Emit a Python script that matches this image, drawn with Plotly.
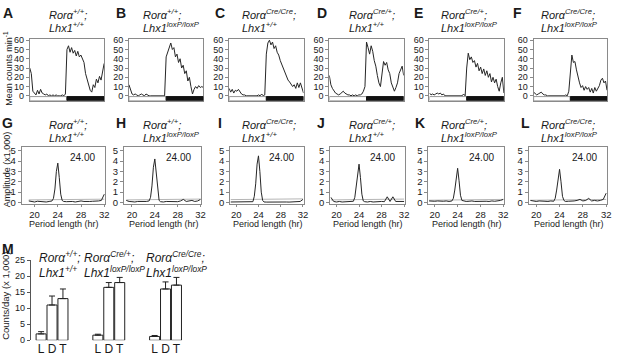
import plotly.graph_objects as go

W, H = 617, 356
FONT = "Liberation Sans, Arial, sans-serif"
TXT = "#1a1a1a"
FRAME = "#8a8a8a"

# ---------------- data ----------------
hours = [0, 0.5, 1, 1.5, 2, 2.5, 3, 3.5, 4, 4.5, 5, 5.5, 6, 6.5, 7, 7.5, 8, 8.5, 9, 9.5,
         10, 10.5, 11, 11.5, 12, 12.5, 13, 13.5, 14, 14.5, 15, 15.5, 16, 16.5, 17, 17.5,
         18, 18.5, 19, 19.5, 20, 20.5, 21, 21.5, 22, 22.5, 23, 23.5, 24]

act_A = [30, 24, 5, 3, 1, 6, 2, 7, 3, 2, 1, 2, 0, 1, 0, 1, 0, 1, 0, 0, 0, 1, 0, 2,
         50, 54, 47, 52, 46, 49, 43, 48, 42, 44, 40, 36, 24, 18, 12, 6, 4, 12, 9, 18,
         14, 21, 17, 26, 35]
act_B = [12, 6, 2, 1, 2, 1, 0, 1, 2, 1, 0, 2, 1, 0, 0, 0, 0, 0, 0, 0, 0, 0, 0, 0,
         42, 48, 53, 57, 50, 52, 42, 45, 36, 40, 30, 33, 24, 27, 16, 20, 10, 2, 7, 10,
         8, 11, 9, 10, 9]
act_C = [8, 4, 7, 3, 6, 5, 7, 4, 2, 1, 1, 0, 0, 0, 0, 0, 0, 0, 0, 1, 0, 2, 0, 1,
         45, 57, 60, 55, 58, 51, 54, 47, 44, 38, 34, 29, 24, 21, 17, 15, 13, 10, 12, 8,
         14, 9, 14, 7, 3]
act_D = [22, 12, 8, 5, 3, 2, 1, 2, 4, 5, 3, 2, 1, 1, 0, 1, 0, 1, 0, 1, 1, 2, 5, 10,
         58, 52, 45, 54, 48, 38, 32, 22, 14, 10, 24, 37, 33, 36, 28, 24, 14, 9, 5, 9,
         14, 24, 28, 32, 22]
act_E = [3, 1, 2, 1, 2, 3, 2, 3, 1, 2, 0, 0, 0, 0, 0, 0, 0, 0, 0, 0, 0, 0, 2, 0,
         30, 46, 39, 42, 36, 38, 31, 35, 27, 31, 24, 29, 22, 27, 20, 24, 15, 20, 14, 18,
         10, 5, 14, 20, 3]
act_F = [4, 2, 1, 2, 3, 4, 2, 1, 1, 0, 0, 0, 0, 0, 0, 0, 0, 0, 0, 0, 0, 1, 0, 5,
         22, 44, 36, 37, 28, 20, 14, 9, 11, 6, 10, 7, 9, 4, 8, 3, 9, 5, 8, 11,
         17, 19, 14, 16, 6]

periods = [19, 19.5, 20, 20.5, 21, 21.5, 22, 22.5, 23, 23.25, 23.5, 23.75, 24, 24.25,
           24.5, 24.75, 25, 25.5, 26, 26.5, 27, 27.5, 28, 28.5, 29, 29.5, 30, 30.5, 31,
           31.5, 32]
amp_G = [0.15, 0.10, 0.05, 0.12, 0.08, 0.10, 0.05, 0.10, 0.15, 0.4, 1.3, 3.0, 3.8, 2.4,
         0.8, 0.2, 0.10, 0.08, 0.12, 0.10, 0.05, 0.10, 0.15, 0.10, 0.08, 0.10, 0.12,
         0.10, 0.15, 0.20, 0.80]
amp_H = [0.20, 0.10, 0.08, 0.05, 0.10, 0.08, 0.12, 0.10, 0.15, 0.5, 1.6, 3.4, 4.2, 2.8,
         0.9, 0.2, 0.08, 0.05, 0.10, 0.08, 0.12, 0.10, 0.08, 0.15, 0.30, 0.10, 0.15,
         0.20, 0.10, 0.15, 0.30]
amp_I = [0.05, 0.05, 0.03, 0.05, 0.04, 0.05, 0.03, 0.05, 0.08, 0.6, 1.8, 3.7, 4.5, 3.0,
         1.0, 0.2, 0.05, 0.04, 0.05, 0.03, 0.05, 0.04, 0.05, 0.03, 0.05, 0.04, 0.05,
         0.05, 0.08, 0.10, 0.30]
amp_J = [0.50, 0.10, 0.05, 0.10, 0.05, 0.08, 0.05, 0.10, 0.12, 0.5, 1.5, 3.0, 3.7, 2.4,
         0.8, 0.15, 0.08, 0.05, 0.10, 0.05, 0.08, 0.05, 0.10, 0.08, 0.55, 0.10, 0.55,
         0.10, 0.08, 0.05, 0.10]
amp_K = [0.15, 0.10, 0.12, 0.15, 0.10, 0.12, 0.15, 0.10, 0.15, 0.4, 1.2, 2.6, 3.3, 2.1,
         0.7, 0.2, 0.15, 0.10, 0.12, 0.15, 0.10, 0.12, 0.10, 0.15, 0.12, 0.10, 0.15,
         0.12, 0.15, 0.20, 0.30]
amp_L = [0.20, 0.12, 0.10, 0.15, 0.10, 0.12, 0.10, 0.15, 0.12, 0.4, 1.2, 2.5, 3.2, 2.0,
         0.6, 0.2, 0.10, 0.12, 0.10, 0.15, 0.20, 0.30, 0.15, 0.20, 0.40, 0.15, 0.20,
         0.15, 0.20, 0.30, 0.90]
sig_start = [0.25, 0.25, 0.28, 0.25, 0.22, 0.22]
sig_end = [0.32, 0.33, 0.35, 0.33, 0.30, 0.30]
peak_period_text = ["24.00"] * 6

activity = [act_A, act_B, act_C, act_D, act_E, act_F]
amplitudes = [amp_G, amp_H, amp_I, amp_J, amp_K, amp_L]

top_letters = ["A", "B", "C", "D", "E", "F"]
mid_letters = ["G", "H", "I", "J", "K", "L"]
geno_ror = ["+/+", "+/+", "Cre/Cre", "Cre/+", "Cre/+", "Cre/Cre"]
geno_lhx = ["+/+", "loxP/loxP", "+/+", "+/+", "loxP/loxP", "loxP/loxP"]
top_yticks = [0, 10, 20, 30, 40, 50, 60]
mid_yticks = [0, 1, 2, 3, 4, 5]
mid_xticks = [20, 24, 28, 32]

m_ror = ["+/+", "Cre/+", "Cre/Cre"]
m_lhx = ["+/+", "loxP/loxP", "loxP/loxP"]
phases = ["L", "D", "T"]
m_means = [[2.0, 11.0, 13.0], [1.6, 16.5, 18.0], [1.2, 16.0, 17.2]]
m_sems = [[0.7, 2.8, 3.0], [0.3, 1.5, 1.6], [0.3, 2.2, 2.4]]
m_yticks = [0, 5, 10, 15, 20, 25]

# ---------------- layout geometry (pixels) ----------------
top_box_x = [(30, 105), (130, 205), (231, 306), (332, 407), (433, 508), (538, 612)]
top_box_y = (35, 99)
mid_box_x = [(22, 106), (125, 203), (232, 306), (333, 408), (432, 508), (533, 612)]
mid_box_y = (147, 206)
mid_xrange = [[17.8, 32.15], [18.6, 32.15], [18.9, 32.1], [18.9, 32.1], [18.9, 32.1], [18.7, 32.15]]
top_letter_x = [1, 115, 215, 318, 415, 515]
top_title_x = [47, 142, 242, 350, 443, 543]
mid_letter_x = [0, 115, 218, 318, 416, 523]
mid_title_x = [47, 142, 242, 350, 443, 543]


def xd(a, b):
    return [a / W, b / W]


def yd(top, bottom):
    return [1 - bottom / H, 1 - top / H]


def px(x):
    return x / W


def py(y):
    return 1 - y / H


fig = go.Figure()
layout = dict(
    width=W, height=H, margin=dict(l=0, r=0, t=0, b=0),
    paper_bgcolor="white", plot_bgcolor="white", showlegend=False,
    font=dict(family=FONT, color=TXT, size=9),
)
annotations = []
shapes = []

axis_common = dict(showgrid=False, zeroline=False, showline=True, linecolor=FRAME,
                   linewidth=1, mirror=True, tickfont=dict(size=9, color=TXT))

# ---- top row: actograms ----
for i in range(6):
    n = i + 1
    xa = "xaxis" if n == 1 else f"xaxis{n}"
    ya = "yaxis" if n == 1 else f"yaxis{n}"
    xr = "x" if n == 1 else f"x{n}"
    yr = "y" if n == 1 else f"y{n}"
    layout[xa] = dict(axis_common, domain=xd(*top_box_x[i]), anchor=yr, range=[0, 24],
                      showticklabels=False, ticks="")
    layout[ya] = dict(axis_common, domain=yd(*top_box_y), anchor=xr, range=[-5.2, 61.5],
                      tickvals=top_yticks, ticks="outside", ticklen=3, tickcolor=FRAME)
    fig.add_trace(go.Scatter(x=hours, y=activity[i], mode="lines", xaxis=xr, yaxis=yr,
                             line=dict(color="#262626", width=1)))
    shapes.append(dict(type="rect", xref=xr, yref=yr, x0=0, x1=12, y0=-5.2, y1=-0.8,
                       line=dict(color="#9a9a9a", width=1), fillcolor="white", layer="above"))
    shapes.append(dict(type="rect", xref=xr, yref=yr, x0=12, x1=24, y0=-5.2, y1=-0.8,
                       line=dict(color="#111", width=1), fillcolor="#111", layer="above"))
    annotations.append(dict(text=f"<b>{top_letters[i]}</b>", x=px(top_letter_x[i]), y=py(8),
                            xref="paper", yref="paper", xanchor="left", yanchor="middle",
                            showarrow=False, font=dict(size=14, color=TXT)))
    annotations.append(dict(text=f"<i>Rorα<sup>{geno_ror[i]}</sup>;</i>", x=px(top_title_x[i]),
                            y=py(9), xref="paper", yref="paper", xanchor="left",
                            yanchor="middle", showarrow=False, font=dict(size=11, color=TXT)))
    annotations.append(dict(text=f"<i>Lhx1<sup>{geno_lhx[i]}</sup></i>", x=px(top_title_x[i]),
                            y=py(22.5), xref="paper", yref="paper", xanchor="left",
                            yanchor="middle", showarrow=False, font=dict(size=11, color=TXT)))

# ---- middle row: periodograms ----
for i in range(6):
    n = i + 7
    xr, yr = f"x{n}", f"y{n}"
    layout[f"xaxis{n}"] = dict(axis_common, domain=xd(*mid_box_x[i]), anchor=yr,
                               range=mid_xrange[i], tickvals=mid_xticks, ticks="outside",
                               ticklen=2, tickcolor=FRAME, tickfont=dict(size=9.5, color=TXT))
    layout[f"yaxis{n}"] = dict(axis_common, domain=yd(*mid_box_y), anchor=xr,
                               range=[-0.15, 5.35], tickvals=mid_yticks, ticks="outside",
                               ticklen=3, tickcolor=FRAME, tickfont=dict(size=9.5, color=TXT))
    fig.add_trace(go.Scatter(x=[periods[0], periods[-1]], y=[sig_start[i], sig_end[i]],
                             mode="lines", xaxis=xr, yaxis=yr,
                             line=dict(color="#b5b5b5", width=1)))
    fig.add_trace(go.Scatter(x=periods, y=amplitudes[i], mode="lines", xaxis=xr, yaxis=yr,
                             line=dict(color="#262626", width=1)))
    annotations.append(dict(text=peak_period_text[i], x=px(mid_box_x[i][1] - 8), y=py(158),
                            xref="paper", yref="paper", xanchor="right", yanchor="middle",
                            showarrow=False, font=dict(size=10, color=TXT)))
    annotations.append(dict(text="Period length (hr)",
                            x=px((mid_box_x[i][0] + mid_box_x[i][1]) / 2 + 1), y=py(227),
                            xref="paper", yref="paper", xanchor="center", yanchor="middle",
                            showarrow=False, font=dict(size=9, color=TXT)))
    annotations.append(dict(text=f"<b>{mid_letters[i]}</b>", x=px(mid_letter_x[i]), y=py(122),
                            xref="paper", yref="paper", xanchor="left", yanchor="middle",
                            showarrow=False, font=dict(size=14, color=TXT)))
    annotations.append(dict(text=f"<i>Rorα<sup>{geno_ror[i]}</sup>;</i>", x=px(mid_title_x[i]),
                            y=py(123), xref="paper", yref="paper", xanchor="left",
                            yanchor="middle", showarrow=False, font=dict(size=11, color=TXT)))
    annotations.append(dict(text=f"<i>Lhx1<sup>{geno_lhx[i]}</sup></i>", x=px(mid_title_x[i]),
                            y=py(136.5), xref="paper", yref="paper", xanchor="left",
                            yanchor="middle", showarrow=False, font=dict(size=11, color=TXT)))

# ---- bottom panel M: bar chart ----
GROUP_GAP = 5.2
tickpos, ticktxt = [], []
for g in range(3):
    xs = [g * GROUP_GAP + (j - 1) for j in range(3)]
    tickpos += xs
    ticktxt += phases
    fig.add_trace(go.Bar(x=xs, y=m_means[g], width=0.92, xaxis="x13", yaxis="y13",
                         marker=dict(color="white", line=dict(color="#222", width=1)),
                         error_y=dict(type="data", symmetric=False, array=m_sems[g],
                                      arrayminus=[0, 0, 0], color="#222", thickness=1, width=3)))
layout["xaxis13"] = dict(domain=xd(31, 190), anchor="y13", range=[-1.95, 12.5],
                         showgrid=False, zeroline=False, showline=False, ticks="",
                         tickvals=tickpos, ticktext=ticktxt, tickfont=dict(size=12, color=TXT))
layout["yaxis13"] = dict(domain=yd(264, 347), anchor="x13", range=[0, 25], showgrid=False,
                         zeroline=False, showline=True, linecolor="#555", linewidth=1,
                         ticks="outside", ticklen=3, tickcolor="#555", tickvals=m_yticks,
                         tickfont=dict(size=9, color=TXT))
m_title_x = [37, 83, 145]
for g in range(3):
    annotations.append(dict(text=f"<i>Rorα<sup>{m_ror[g]}</sup>;</i>", x=px(m_title_x[g]),
                            y=py(260.5), xref="paper", yref="paper", xanchor="left",
                            yanchor="middle", showarrow=False, font=dict(size=12, color=TXT)))
    annotations.append(dict(text=f"<i>Lhx1<sup>{m_lhx[g]}</sup></i>", x=px(m_title_x[g]),
                            y=py(276), xref="paper", yref="paper", xanchor="left",
                            yanchor="middle", showarrow=False, font=dict(size=12, color=TXT)))
annotations.append(dict(text="<b>M</b>", x=px(0), y=py(253), xref="paper", yref="paper",
                        xanchor="left", yanchor="middle", showarrow=False,
                        font=dict(size=14, color=TXT)))

# ---- axis titles ----
annotations.append(dict(text="Mean counts min<sup>-1</sup>", x=px(8), y=py(65), xref="paper",
                        yref="paper", textangle=-90, showarrow=False, xanchor="center",
                        yanchor="middle", font=dict(size=9, color=TXT)))
annotations.append(dict(text="Amplitude (x1,000)", x=px(7), y=py(170), xref="paper",
                        yref="paper", textangle=-90, showarrow=False, xanchor="center",
                        yanchor="middle", font=dict(size=9, color=TXT)))
annotations.append(dict(text="Counts/day (x 1,000)", x=px(6), y=py(301), xref="paper",
                        yref="paper", textangle=-90, showarrow=False, xanchor="center",
                        yanchor="middle", font=dict(size=9.5, color=TXT)))

layout["annotations"] = annotations
layout["shapes"] = shapes
fig.update_layout(**layout)
fig.write_html("out.html", config={"displayModeBar": False},
               post_script="document.body.style.margin='0';document.body.style.overflow='hidden';")
